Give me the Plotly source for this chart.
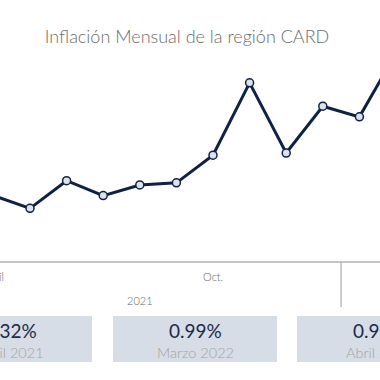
import plotly.graph_objects as go

# Data (April 2021 -> April 2022), monthly inflation %
months = ["Abr 2021", "May 2021", "Jun 2021", "Jul 2021", "Ago 2021", "Sep 2021",
          "Oct 2021", "Nov 2021", "Dic 2021", "Ene 2022", "Feb 2022", "Mar 2022", "Abr 2022"]
inflation = [0.32, 0.26, 0.39, 0.32, 0.37, 0.38, 0.51, 0.85, 0.52, 0.74, 0.69, 0.99, 0.96]

tick_positions = [0, 6]
tick_labels = ["Abril", "Oct."]
year_label = "2021"
year_label_pos = 4
year_separator_pos = 9.5

card_values = ["0.32%", "0.99%", "0.96%"]
card_labels = ["Abril 2021", "Marzo 2022", "Abril 2022"]

W, H = 380, 380
TOP, BOTTOM = 45, 261
FONT = "Lato Light, Lato"
FONT_VAL = "Lato"

# x axis: category index -> pixel (step between categories)
X0_PIX, STEP = -6.6, 36.6
X_RANGE = [(0 - X0_PIX) / STEP, (W - X0_PIX) / STEP]

def px(x):
    return x / W

def py(y):
    return (BOTTOM - y) / (BOTTOM - TOP)

def cat_to_paper(c):
    return (c - X_RANGE[0]) / (X_RANGE[1] - X_RANGE[0])

x_idx = list(range(len(inflation)))

fig = go.Figure()
fig.add_trace(go.Scatter(
    x=x_idx, y=inflation, mode="lines+markers",
    line=dict(color="#0e2244", width=3),
    marker=dict(size=8, color="#dbe2ec", line=dict(color="#0e2244", width=1.5)),
    hovertext=months, hoverinfo="text+y",
))

shapes = []
annotations = []

# Month tick labels (paper coords so partially visible labels still show)
for pos, lab in zip(tick_positions, tick_labels):
    annotations.append(dict(xref="paper", yref="paper", x=cat_to_paper(pos), y=py(276),
                            text=lab, showarrow=False, xanchor="center", yanchor="middle",
                            font=dict(family=FONT, size=11, color="#666666")))

# Year separator
shapes.append(dict(type="line", xref="x", yref="paper",
                   x0=year_separator_pos, x1=year_separator_pos,
                   y0=py(BOTTOM), y1=py(307),
                   line=dict(color="#bdbdbd", width=1.5)))
annotations.append(dict(xref="paper", yref="paper", x=cat_to_paper(year_label_pos), y=py(300),
                        text=year_label, showarrow=False, xanchor="center", yanchor="middle",
                        font=dict(family=FONT, size=11, color="#666666")))

# Cards
card_left = [-72, 113, 297]
card_w = 164
for i, (v, lab) in enumerate(zip(card_values, card_labels)):
    x0 = card_left[i]
    x1 = x0 + card_w
    cx = (x0 + x1) / 2
    shapes.append(dict(type="rect", xref="paper", yref="paper",
                       x0=px(x0), x1=px(x1), y0=py(362), y1=py(316),
                       fillcolor="#d6dde6", line=dict(width=0), layer="below"))
    annotations.append(dict(xref="paper", yref="paper", x=px(cx), y=py(330),
                            text=v, showarrow=False, xanchor="center", yanchor="middle",
                            font=dict(family=FONT_VAL, size=19, color="#1c2a47")))
    annotations.append(dict(xref="paper", yref="paper", x=px(cx), y=py(352),
                            text=lab, showarrow=False, xanchor="center", yanchor="middle",
                            font=dict(family=FONT, size=14.5, color="#a3a3a3")))

fig.update_layout(
    width=W, height=H,
    margin=dict(l=0, r=0, t=TOP, b=H - BOTTOM, pad=0),
    paper_bgcolor="white", plot_bgcolor="white",
    showlegend=False,
    title=dict(text="Inflación Mensual de la región CARD", x=px(187), xanchor="center",
               y=1 - 37 / H, yanchor="middle", yref="container",
               font=dict(family=FONT, size=18, color="#6b6b6b")),
    xaxis=dict(range=X_RANGE, showticklabels=False,
               showgrid=False, zeroline=False, showline=True, linecolor="#c4c4c4", linewidth=1.5,
               ticks=""),
    yaxis=dict(range=[(263.7 - BOTTOM) / 212.8, (263.7 - TOP) / 212.8],
               showgrid=False, zeroline=False, showline=False, showticklabels=False, ticks=""),
    shapes=shapes, annotations=annotations,
)

fig.write_html("out.html", config={"displayModeBar": False},
               post_script="document.body.style.margin='0';document.body.style.padding='0';")
